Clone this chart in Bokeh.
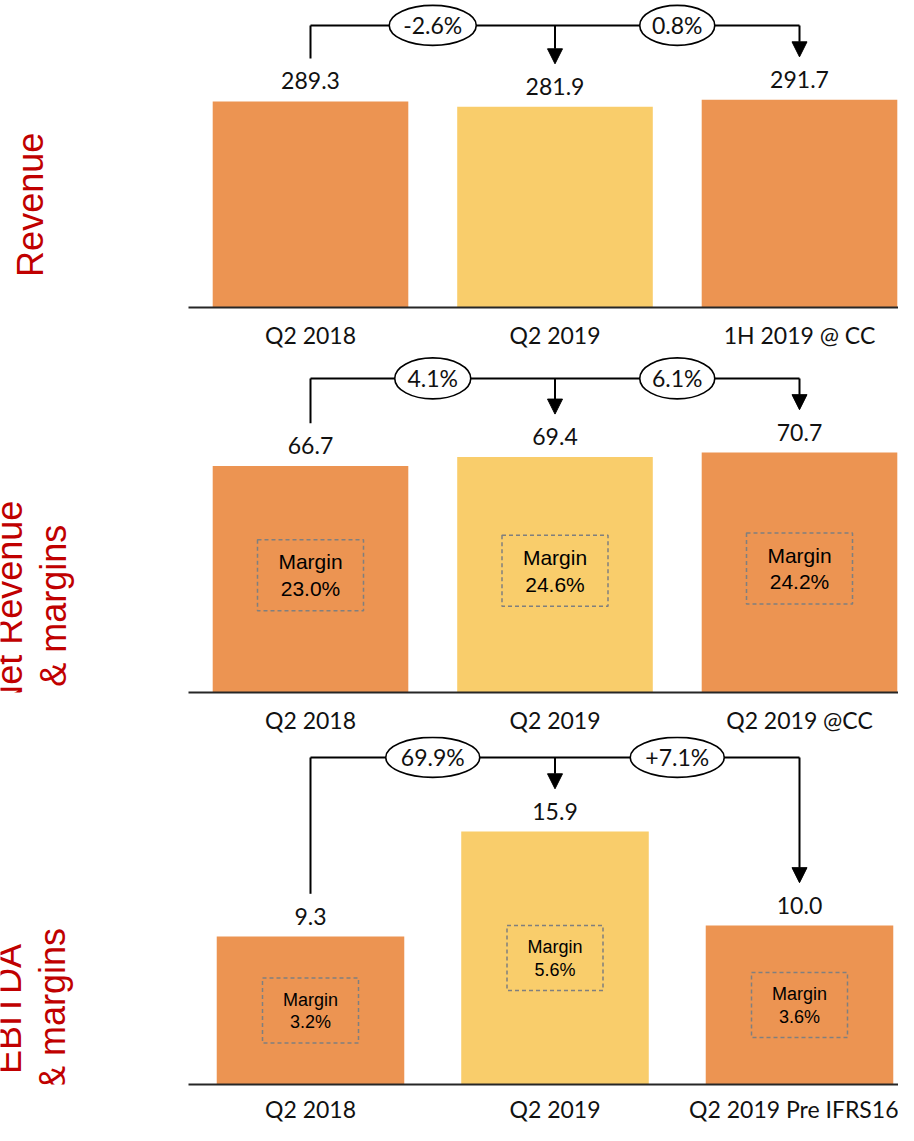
import math
from bokeh.plotting import figure
from bokeh.models import Range1d, FixedTicker, Arrow, NormalHead
from bokeh.layouts import column
from bokeh.embed import file_html
from bokeh.resources import INLINE
from bokeh.core.properties import value

# ---------------- data ----------------
rev_cats = ["Q2 2018", "Q2 2019", "1H 2019 @ CC"]
rev_vals = [289.3, 281.9, 291.7]
rev_changes = ["-2.6%", "0.8%"]

nr_cats = ["Q2 2018", "Q2 2019", "Q2 2019 @CC"]
nr_vals = [66.7, 69.4, 70.7]
nr_changes = ["4.1%", "6.1%"]
nr_margins = ["23.0%", "24.6%", "24.2%"]

eb_cats = ["Q2 2018", "Q2 2019", "Q2 2019 Pre IFRS16"]
eb_vals = [9.3, 15.9, 10.0]
eb_changes = ["69.9%", "+7.1%"]
eb_margins = ["3.2%", "5.6%", "3.6%"]

bar_colors = ["#EC9452", "#F9CD6B", "#EC9452"]

# ---------------- styling ----------------
W = 898
X0 = 310.0   # pixel of first category centre
DX = 244.5   # pixels between category centres
RED = "#C00000"
NUM_FONT = value("Lato")
ARIAL = value("Liberation Sans")


def xd(px):
    return (px - X0) / DX


def make_panel(cats, vals, changes, title_lines, title_xpx, title_c, k,
               frame_h, fig_h, conn, ell_ws, ell_h, bar_w, standoff,
               margins=None, box_w=0, box_h=0, box_font="20px",
               box_l1=0, box_l2=0, box_off=0):
    p = figure(width=W, height=fig_h, output_backend="svg", toolbar_location=None,
               x_range=Range1d(xd(0), xd(W)), y_range=Range1d(0, frame_h / k),
               y_axis_location=None, min_border_left=0, min_border_right=0,
               min_border_top=0, min_border_bottom=fig_h - frame_h,
               outline_line_color=None, background_fill_color="white",
               border_fill_color="white")
    p.grid.visible = False
    n = len(cats)
    xs = list(range(n))
    mids = [i + 0.5 for i in range(n - 1)]

    p.vbar(x=xs, top=vals, bottom=0, width=bar_w, fill_color=bar_colors,
           line_color=None)

    ax = p.xaxis[0]
    ax.ticker = FixedTicker(ticks=xs)
    ax.major_label_overrides = {i: c for i, c in enumerate(cats)}
    ax.bounds = (xd(188), xd(W))
    ax.axis_line_color = "#262626"
    ax.axis_line_width = 2
    ax.major_tick_line_color = None
    ax.minor_tick_line_color = None
    ax.major_tick_out = 0
    ax.major_tick_in = 0
    ax.major_label_standoff = standoff
    ax.major_label_text_font = "Lato"
    ax.major_label_text_font_size = "23px"
    ax.major_label_text_color = "#111111"

    yc = conn / k
    # connector and left stem
    p.line(x=[xs[0], xs[-1]], y=[yc, yc], line_color="black", line_width=2)
    p.segment(x0=[xs[0]], y0=[yc], x1=[xs[0]], y1=[vals[0] + 43 / k],
              line_color="black", line_width=2)
    for i in xs[1:]:
        p.add_layout(Arrow(end=NormalHead(size=15, fill_color="black",
                                          line_color="black"),
                           x_start=i, y_start=yc, x_end=i, y_end=vals[i] + 43 / k,
                           line_color="black", line_width=2))
    p.ellipse(x=mids, y=[yc] * len(mids), width=ell_ws, height=ell_h,
              width_units="screen", height_units="screen",
              fill_color="white", line_color="black", line_width=1.6)
    p.text(x=mids, y=[(conn + 0.5) / k] * len(mids), text=changes,
           text_font=NUM_FONT, text_font_size="23px", text_color="#111111",
           text_align="center", text_baseline="alphabetic")

    # value labels
    p.text(x=xs, y=[v + 20.5 / k for v in vals], text=[f"{v:.1f}" for v in vals],
           text_font=NUM_FONT, text_font_size="23px", text_color="#111111",
           text_align="center", text_baseline="alphabetic")

    # margin boxes
    if margins:
        cy = [v / 2 + box_off / k for v in vals]
        p.rect(x=xs, y=cy, width=box_w, height=box_h, width_units="screen",
               height_units="screen", fill_color=None, line_color="#7F7F7F",
               line_dash="4 3", line_width=1.5)
        p.text(x=xs, y=[c + box_l1 / k for c in cy], text=["Margin"] * n,
               text_font=ARIAL, text_font_size=box_font, text_color="black",
               text_align="center", text_baseline="alphabetic")
        p.text(x=xs, y=[c + box_l2 / k for c in cy], text=margins,
               text_font=ARIAL, text_font_size=box_font, text_color="black",
               text_align="center", text_baseline="alphabetic")

    # red section titles
    for line, xpx in zip(title_lines, title_xpx):
        p.text(x=[xd(xpx)], y=[title_c / k], text=[line], angle=math.pi / 2,
               text_font=ARIAL, text_font_size="36px", text_color=RED,
               text_align="center", text_baseline="alphabetic")
    return p


p1 = make_panel(rev_cats, rev_vals, rev_changes, ["Revenue"], [30], 103,
                0.7147, 308, 351, 283, [87, 75], 40, 0.8, 13)
p2 = make_panel(nr_cats, nr_vals, nr_changes, ["Net Revenue", "& margins"],
                [9, 53], 87, 3.404, 342, 385, 315, [76, 75], 41, 0.8, 13,
                margins=nr_margins, box_w=106, box_h=71, box_font="21px",
                box_l1=13.5, box_l2=-13.5, box_off=4)
p3 = make_panel(eb_cats, eb_vals, eb_changes, ["EBITDA", "& margins"],
                [8, 52], 76, 16.0, 350, 389, 329, [94, 94], 40, 0.767, 10,
                margins=eb_margins, box_w=96, box_h=65, box_font="18px",
                box_l1=11, box_l2=-12, box_off=0)

layout = column(p1, p2, p3)
open("out.html", "w").write(file_html(layout, INLINE))
